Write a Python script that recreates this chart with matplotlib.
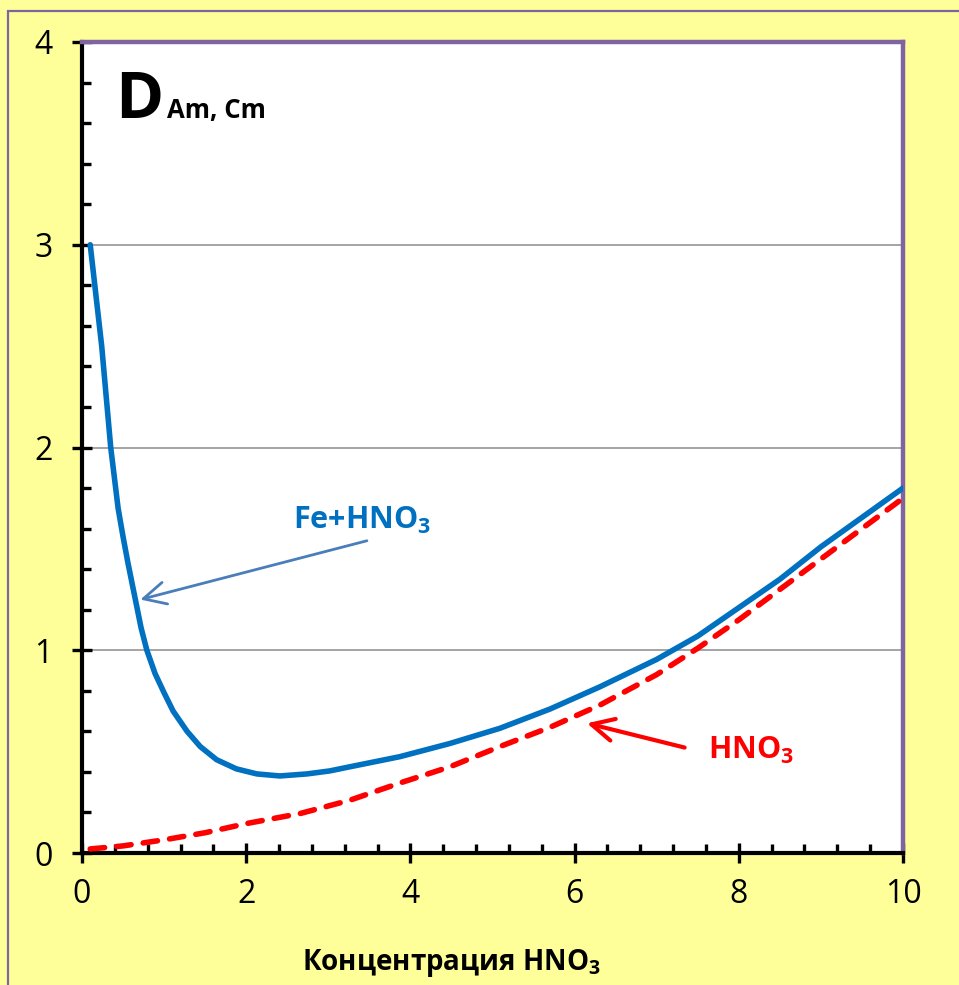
"""Distribution ratio D(Am, Cm) vs HNO3 concentration."""

import matplotlib
matplotlib.use("Agg")
import matplotlib.pyplot as plt
from matplotlib.patches import Rectangle
from matplotlib.ticker import MultipleLocator

plt.rcParams["font.family"] = ["Open Sans", "DejaVu Sans"]
plt.rcParams["mathtext.fontset"] = "custom"
plt.rcParams["mathtext.rm"] = "Open Sans"
plt.rcParams["mathtext.bf"] = "Open Sans:bold"

# Fe + HNO3 curve
fe_x = [0.1, 0.24, 0.35, 0.44, 0.50, 0.56, 0.65, 0.72, 0.79, 0.89, 1.0, 1.11,
        1.28, 1.44, 1.64, 1.88, 2.13, 2.41, 2.74, 3.02, 3.26, 3.87, 4.48, 5.09,
        5.70, 6.31, 7.0, 7.5, 8.0, 8.5, 9.0, 9.5, 10.0]
fe_y = [3.0, 2.5, 2.0, 1.70, 1.56, 1.43, 1.25, 1.11, 1.0, 0.885, 0.79, 0.70,
        0.60, 0.525, 0.46, 0.415, 0.39, 0.38, 0.39, 0.405, 0.425, 0.475, 0.54, 0.615,
        0.71, 0.82, 0.955, 1.07, 1.21, 1.35, 1.51, 1.655, 1.80]

# HNO3 only curve
hno3_x = [0.1, 0.5, 1.0, 1.5, 2.0, 2.66, 3.26, 3.87, 4.48, 5.09, 5.70, 6.31,
          7.0, 7.5, 8.0, 8.5, 9.0, 9.5, 10.0]
hno3_y = [0.02, 0.035, 0.065, 0.10, 0.145, 0.195, 0.26, 0.345, 0.425, 0.525, 0.62, 0.73,
          0.88, 1.01, 1.15, 1.30, 1.45, 1.60, 1.75]

x_ticks = [0, 2, 4, 6, 8, 10]
y_ticks = [0, 1, 2, 3, 4]

BG = "#FFFF99"
PURPLE = "#8064A2"

fig = plt.figure(figsize=(9.59, 9.85), dpi=100, facecolor=BG)
fig.patches.append(Rectangle((8 / 959, -0.05), 1.1, 1 - 11 / 985 + 0.05,
                             transform=fig.transFigure, fill=False,
                             edgecolor=PURPLE, linewidth=1.6))
ax = fig.add_axes([82 / 959, 132 / 985, 821 / 959, 811 / 985])
ax.set_facecolor("white")

ax.plot(fe_x, fe_y, color="#0070C0", linewidth=4.0, solid_capstyle="round",
        solid_joinstyle="round", zorder=4)
ax.plot(hno3_x, hno3_y, color="#FF0000", linewidth=4.0, dashes=(2.6, 2.2),
        dash_capstyle="round", zorder=3)

ax.set_xlim(0, 10)
ax.set_ylim(0, 4)
ax.set_xticks(x_ticks)
ax.set_yticks(y_ticks)
ax.xaxis.set_minor_locator(MultipleLocator(0.4))
ax.yaxis.set_minor_locator(MultipleLocator(0.2))
ax.tick_params(which="major", direction="inout", length=14, width=2.4,
               labelsize=23, color="black")
ax.tick_params(axis="y", which="major", pad=14)
ax.tick_params(axis="x", which="major", pad=11)
ax.tick_params(which="minor", direction="in", length=6.5, width=2.4, color="black")
ax.grid(axis="y", color="#8C8C8C", linewidth=1.1)
ax.set_axisbelow(True)

for side in ("left", "bottom"):
    ax.spines[side].set_color("black")
    ax.spines[side].set_linewidth(3.0)
for side in ("top", "right"):
    ax.spines[side].set_color(PURPLE)
    ax.spines[side].set_linewidth(3.2)

# Title inside the plot
ax.text(0.40, 3.625, "D", fontsize=47, fontweight="bold", va="baseline", ha="left")
ax.text(1.04, 3.625, "Am, Cm", fontsize=18.5, fontweight="bold", va="baseline", ha="left")

# Curve labels with arrows
ax.annotate("", xy=(0.71, 1.25), xytext=(3.47, 1.54),
            arrowprops=dict(arrowstyle="->,head_length=0.8,head_width=0.4",
                            color="#4A7EBB", linewidth=2.0, mutation_scale=20,
                            shrinkA=0, shrinkB=0))
ax.text(2.57, 1.60, r"Fe+HNO$_\mathbf{3}$", fontsize=22, fontweight="bold",
        color="#0070C0", va="baseline", ha="left")

ax.annotate("", xy=(6.15, 0.64), xytext=(7.34, 0.52),
            arrowprops=dict(arrowstyle="->,head_length=0.8,head_width=0.4",
                            color="#FF0000", linewidth=3.0, mutation_scale=20,
                            shrinkA=0, shrinkB=0))
ax.text(7.62, 0.465, r"HNO$_\mathbf{3}$", fontsize=22, fontweight="bold",
        color="#FF0000", va="baseline", ha="left")

fig.text(452 / 959, 15 / 985, r"Концентрация HNO$_\mathbf{3}$", fontsize=20,
         fontweight="bold", ha="center", va="baseline")

fig.savefig("out.png", dpi=100, facecolor=BG)
plt.close(fig)
